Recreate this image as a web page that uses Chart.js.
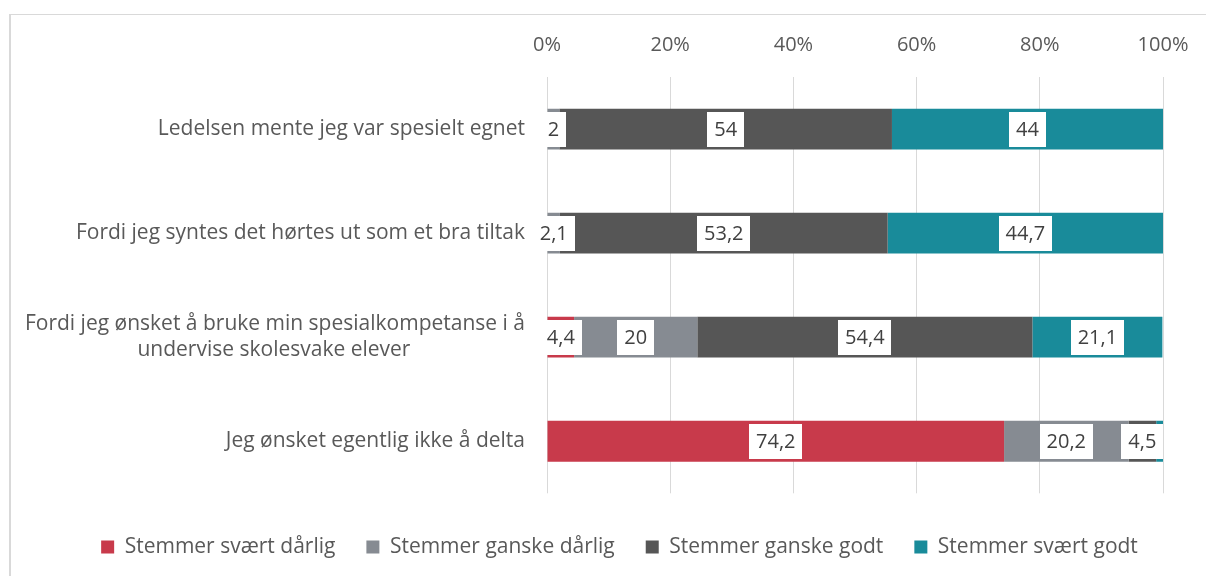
<!DOCTYPE html>
<html>
<head>
<meta charset="utf-8">
<script src="https://cdn.jsdelivr.net/npm/chart.js@4.4.1/dist/chart.umd.min.js"></script>
<style>
  html, body { margin: 0; padding: 0; background: #fff; overflow: hidden; }
  #frame { position: absolute; left: 9px; top: 14px; width: 1400px; height: 800px;
           border-left: 2px solid #d9d9d9; border-top: 1px solid #d9d9d9; }
  #wrap { position: absolute; left: 0; top: 0; width: 1206px; height: 576px; }
</style>
</head>
<body>
<div id="frame"></div>
<div id="wrap"><canvas id="c" width="1206" height="576"></canvas></div>
<script>
const categories = [
  'Ledelsen mente jeg var spesielt egnet',
  'Fordi jeg syntes det hørtes ut som et bra tiltak',
  ['Fordi jeg ønsket å bruke min spesialkompetanse i å', 'undervise skolesvake elever'],
  'Jeg ønsket egentlig ikke å delta'
];
const seriesNames = ['Stemmer svært dårlig', 'Stemmer ganske dårlig', 'Stemmer ganske godt', 'Stemmer svært godt'];
const svaertDarlig = [0, 0, 4.4, 74.2];
const ganskeDarlig = [2, 2.1, 20, 20.2];
const ganskeGodt   = [54, 53.2, 54.4, 4.5];
const svaertGodt   = [44, 44.7, 21.1, 1.1];
const hiddenLabels = [[], [], [], [3]]; // series index -> category indices without labels
const xTicks = [0, 20, 40, 60, 80, 100];

const FONT = '"Open Sans"';
const FS = 21;      // category + legend
const FS_TICK = 20; // x ticks
const FS_LBL = 20;  // data labels
const TEXT = '#595959';
const colors = ['#C83A4B', '#868B92', '#565656', '#198B9A'];

// center second line of the multi-line category under the first
(function () {
  const m = document.createElement('canvas').getContext('2d');
  m.font = FS + 'px ' + FONT;
  categories.forEach((c, i) => {
    if (Array.isArray(c)) {
      const w1 = m.measureText(c[0]).width, w2 = m.measureText(c[1]).width;
      const sp = m.measureText(' ').width;
      const n = Math.round(((w1 - w2) / 2) / sp);
      categories[i] = [c[0], c[1] + ' '.repeat(Math.max(0, n))];
    }
  });
})();

const seriesValues = [svaertDarlig, ganskeDarlig, ganskeGodt, svaertGodt];

const labelPlugin = {
  id: 'boxLabels',
  afterLayout(chart) {
    const d = 38;
    chart.legend.left += d;
    chart.legend.right += d;
  },
  afterDatasetsDraw(chart) {
    const ctx = chart.ctx;
    ctx.save();
    ctx.font = FS_LBL + 'px ' + FONT;
    ctx.textAlign = 'center';
    ctx.textBaseline = 'middle';
    chart.data.datasets.forEach((ds, di) => {
      const meta = chart.getDatasetMeta(di);
      meta.data.forEach((el, i) => {
        const v = ds.data[i];
        if (!v) return;
        if (hiddenLabels[di] && hiddenLabels[di].includes(i)) return;
        const txt = String(v).replace('.', ',');
        const cx = (el.x + el.base) / 2;
        const cy = el.y;
        const w = ctx.measureText(txt).width + 14;
        const h = 35;
        ctx.fillStyle = '#ffffff';
        ctx.fillRect(Math.round(cx - w / 2), Math.round(cy - h / 2), Math.round(w), h);
        ctx.fillStyle = '#404040';
        ctx.fillText(txt, cx, cy + 1);
      });
    });
    ctx.restore();
  }
};

new Chart(document.getElementById('c'), {
  type: 'bar',
  data: {
    labels: categories,
    datasets: seriesValues.map((vals, i) => ({
      label: seriesNames[i],
      data: vals,
      backgroundColor: colors[i],
      borderWidth: 0,
      barPercentage: 1,
      categoryPercentage: 0.392
    }))
  },
  options: {
    indexAxis: 'y',
    responsive: false,
    animation: false,
    layout: { padding: { left: 0, right: 43, top: 0, bottom: 8.5 } },
    scales: {
      x: {
        position: 'top',
        stacked: true,
        min: 0, max: 100,
        afterBuildTicks(scale) { scale.ticks = xTicks.map(v => ({ value: v })); },
        afterFit(scale) { scale.height = 77; scale.paddingLeft = 0; scale.paddingRight = 0; },
        ticks: {
          callback: v => v + '%',
          color: TEXT,
          font: { family: FONT, size: FS_TICK },
          padding: 20
        },
        grid: { color: '#d9d9d9', lineWidth: 1, drawTicks: false },
        border: { display: false }
      },
      y: {
        stacked: true,
        afterFit(scale) { scale.width = 547; },
        ticks: {
          color: TEXT,
          font: { family: FONT, size: FS, lineHeight: 1.25 },
          padding: 14
        },
        grid: { display: false },
        border: { display: false }
      }
    },
    plugins: {
      legend: {
        position: 'bottom',
        title: { display: true, text: '', font: { size: 1 }, padding: { top: 0, bottom: 11 } },
        labels: {
          color: TEXT,
          font: { family: FONT, size: FS },
          boxWidth: 13,
          boxHeight: 13,
          padding: 31
        }
      },
      tooltip: { enabled: false }
    }
  },
  plugins: [labelPlugin]
});
</script>
</body>
</html>
